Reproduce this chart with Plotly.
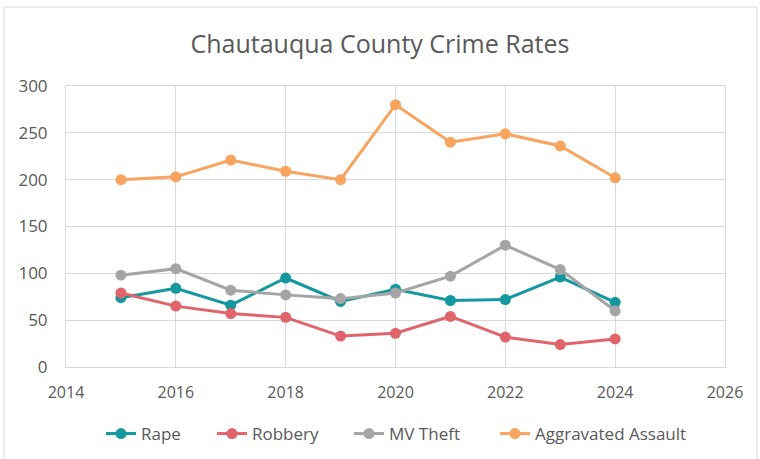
import plotly.graph_objects as go

years = [2015, 2016, 2017, 2018, 2019, 2020, 2021, 2022, 2023, 2024]
rape = [74, 84, 66, 95, 70, 83, 71, 72, 96, 69]
robbery = [79, 65, 57, 53, 33, 36, 54, 32, 24, 30]
mv_theft = [98, 105, 82, 77, 73, 79, 97, 130, 104, 60]
agg_assault = [200, 203, 221, 209, 200, 280, 240, 249, 236, 202]

series = [
    ("Rape", rape, "#12989e"),
    ("Robbery", robbery, "#e0646a"),
    ("MV Theft", mv_theft, "#a5a5a5"),
    ("Aggravated Assault", agg_assault, "#f8a35e"),
]
legend_left_px = [101, 212, 349, 495]

W, H = 760, 459
L, R, T, B = 66, 35, 86, 92
pw, ph = W - L - R, H - T - B

def px(xp):
    return (xp - L) / pw

def py(yp):
    return (H - B - yp) / ph

fig = go.Figure()
legend_layouts = {}
for i, (name, vals, col) in enumerate(series):
    lname = "legend" if i == 0 else f"legend{i + 1}"
    fig.add_trace(go.Scatter(
        x=years, y=vals, name=name, mode="lines+markers",
        line=dict(color=col, width=3),
        marker=dict(color=col, size=11),
        legend=lname,
    ))
    legend_layouts[lname] = dict(
        orientation="h", x=legend_left_px[i] / W, xanchor="left",
        xref="container", y=1 - 434 / H, yref="container", yanchor="middle",
        font=dict(size=17, color="#595959"), bgcolor="rgba(0,0,0,0)",
    )

fig.update_layout(
    width=W, height=H,
    margin=dict(l=L, r=R, t=T, b=B, autoexpand=False),
    paper_bgcolor="white", plot_bgcolor="white",
    font=dict(family="Open Sans, sans-serif", color="#595959", size=16),
    title=dict(text="Chautauqua County Crime Rates", x=0.5, xref="container",
               xanchor="center", y=1 - 44 / H, yanchor="middle",
               font=dict(size=25, color="#595959")),
    xaxis=dict(range=[2014, 2026], dtick=2, tick0=2014, showgrid=True,
               gridcolor="#d9d9d9", gridwidth=1, showline=True,
               linecolor="#d9d9d9", mirror=True, zeroline=False,
               ticks="", ticklabelstandoff=11, automargin=False,
               tickfont=dict(size=16, color="#595959")),
    yaxis=dict(range=[0, 300], dtick=50, showgrid=True, gridcolor="#d9d9d9",
               gridwidth=1, showline=True, linecolor="#d9d9d9", mirror=True,
               zeroline=False, ticks="", ticklabelstandoff=14, automargin=False,
               tickfont=dict(size=17, color="#595959")),
    showlegend=True,
    **legend_layouts,
)

fig.add_shape(type="rect", xref="paper", yref="paper",
              x0=px(4), x1=px(757), y0=py(470), y1=py(7),
              line=dict(color="#d9d9d9", width=1), fillcolor="rgba(0,0,0,0)",
              layer="below")

fig.write_html("out.html", config={"displayModeBar": False})

# remove default browser body margin so the figure sits at the window origin
with open("out.html", "r", encoding="utf-8") as f:
    html = f.read()
html = html.replace("<head>", "<head><style>html,body{margin:0;padding:0;overflow:hidden;}</style>", 1)
with open("out.html", "w", encoding="utf-8") as f:
    f.write(html)
